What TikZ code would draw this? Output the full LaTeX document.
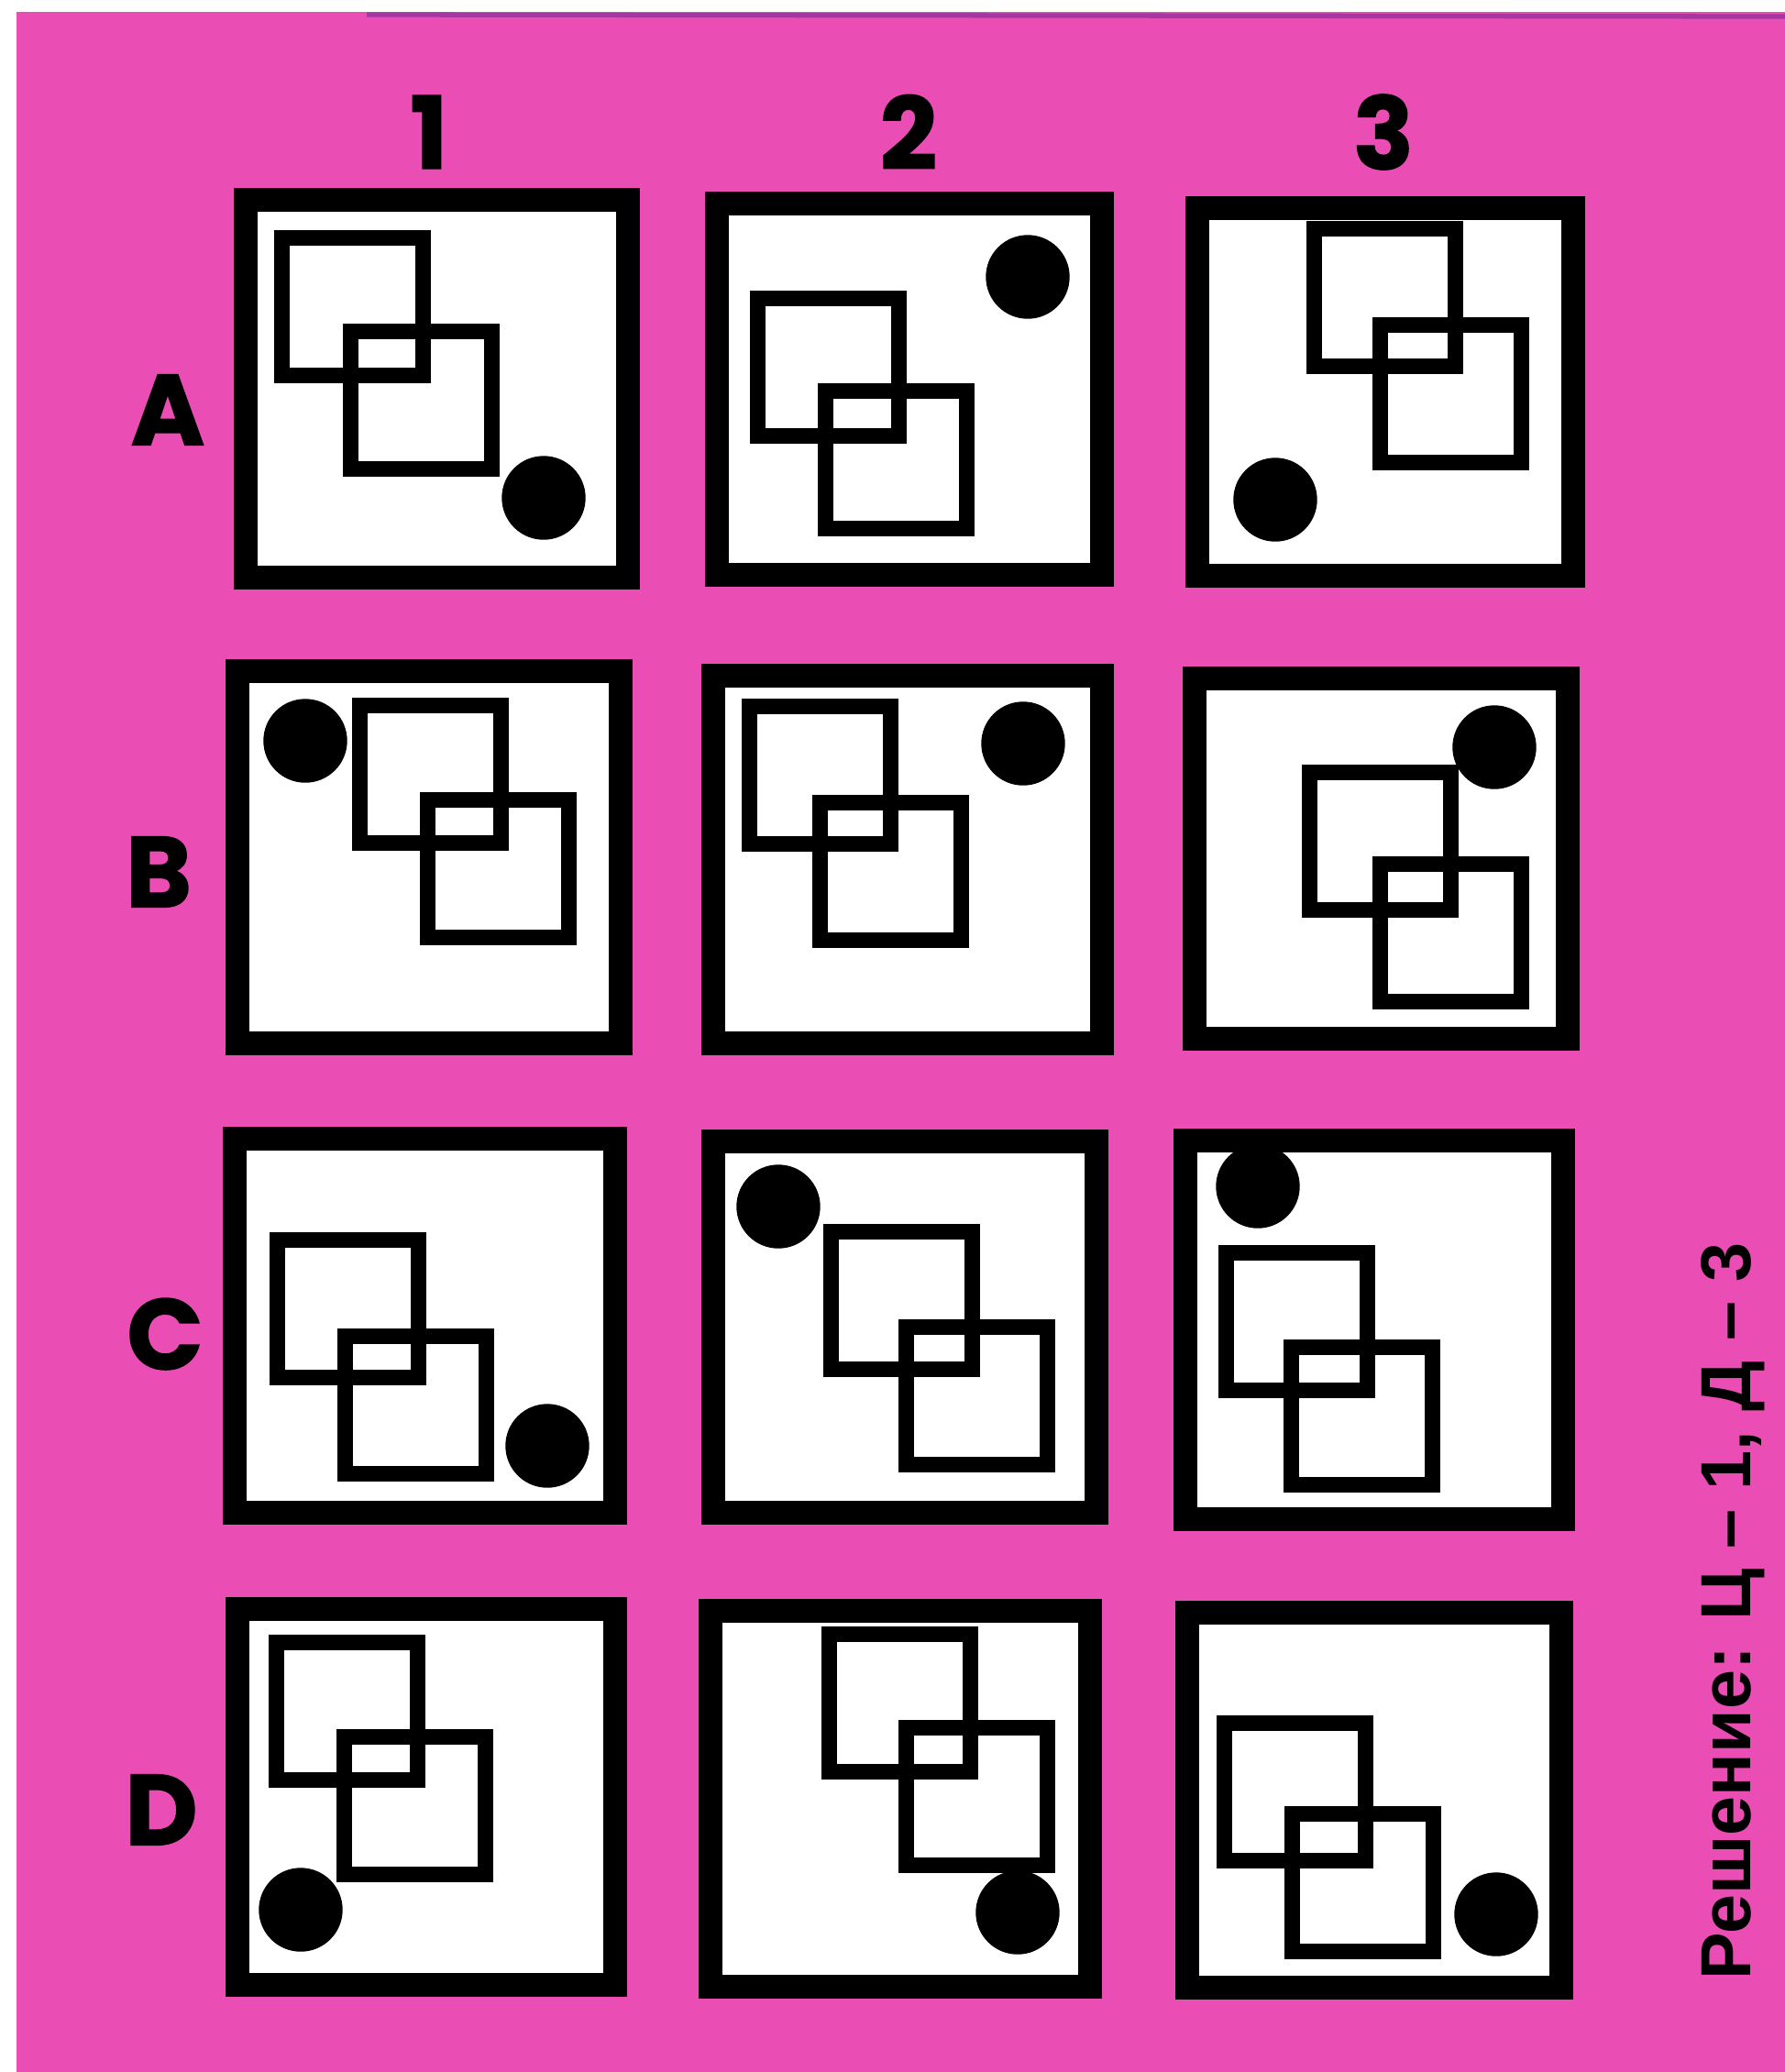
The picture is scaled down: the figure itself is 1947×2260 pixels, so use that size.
\documentclass[tikz,border=0pt]{standalone}
\usepackage{fontspec}
\newfontfamily\lblfont[BoldFeatures={FakeBold=1.5}]{Poppins}
\newfontfamily\sidefont{Liberation Sans}
\definecolor{bgpink}{RGB}{234,78,180}
\definecolor{edgeviolet}{RGB}{120,40,150}
\tikzset{
  panel/.style={draw=black, fill=white, line width=26*0.1mm},
  sqr/.style={draw=black, line width=17*0.1mm},
  lbl/.style={font=\lblfont\bfseries\fontsize{31}{31}\selectfont, inner sep=0pt},
  side/.style={font=\sidefont\bfseries\fontsize{22}{22}\selectfont, inner sep=0pt, rotate=90}
}
\begin{document}
\begin{tikzpicture}[x=0.1mm, y=-0.1mm]
    \useasboundingbox (0,0) rectangle (1947,2260);
    % 背景 (纸张粉色, 左上留白)
    \fill[white] (0,0) rectangle (1947,2260);
    \fill[bgpink] (18,13) rectangle (1947,2260);
    \draw[edgeviolet, line width=1.5pt, opacity=0.6] (400,16) -- (1947,18);

    % --- 列号与行号 ---
    \node[lbl] (col1) at (468,144) {1};
    \node[lbl] (col2) at (991,144) {2};
    \node[lbl] (col3) at (1509,144) {3};
    \node[lbl] (rowA) at (183,447) {A};
    \node[lbl] (rowB) at (173,951) {B};
    \node[lbl] (rowC) at (180,1455) {C};
    \node[lbl] (rowD) at (176,1974) {D};

    % --- 第 A 行 ---
    \filldraw[panel] (268,218) rectangle (685,630);
    \draw[sqr] (307,259) rectangle ++(154,150);
    \draw[sqr] (382,361) rectangle ++(154,150);
    \filldraw[black] (593,543) circle (45);

    \filldraw[panel] (782,222) rectangle (1202,627);
    \draw[sqr] (826,325) rectangle ++(154,150);
    \draw[sqr] (900,426) rectangle ++(154,150);
    \filldraw[black] (1121,302) circle (45);

    \filldraw[panel] (1306,227) rectangle (1716,628);
    \draw[sqr] (1433,249) rectangle ++(154,150);
    \draw[sqr] (1505,354) rectangle ++(154,150);
    \filldraw[black] (1391,545) circle (45);

    % --- 第 B 行 ---
    \filldraw[panel] (259,732) rectangle (677,1138);
    \draw[sqr] (392,769) rectangle ++(154,150);
    \draw[sqr] (466,872) rectangle ++(154,150);
    \filldraw[black] (333,808) circle (45);

    \filldraw[panel] (778,737) rectangle (1202,1138);
    \draw[sqr] (817,770) rectangle ++(154,150);
    \draw[sqr] (894,875) rectangle ++(154,150);
    \filldraw[black] (1116,811) circle (45);

    \filldraw[panel] (1303,740) rectangle (1710,1133);
    \draw[sqr] (1428,842) rectangle ++(154,150);
    \draw[sqr] (1505,942) rectangle ++(154,150);
    \filldraw[black] (1630,815) circle (45);

    % --- 第 C 行 ---
    \filldraw[panel] (256,1242) rectangle (671,1650);
    \draw[sqr] (302,1352) rectangle ++(154,150);
    \draw[sqr] (376,1457) rectangle ++(154,150);
    \filldraw[black] (597,1577) circle (45);

    \filldraw[panel] (778,1245) rectangle (1196,1650);
    \draw[sqr] (906,1343) rectangle ++(154,150);
    \draw[sqr] (988,1447) rectangle ++(154,150);
    \filldraw[black] (849,1316) circle (45);

    \filldraw[panel] (1293,1244) rectangle (1705,1657);
    \draw[sqr] (1337,1366) rectangle ++(154,150);
    \draw[sqr] (1408,1469) rectangle ++(154,150);
    \filldraw[black] (1372,1294) circle (45);

    % --- 第 D 行 ---
    \filldraw[panel] (259,1755) rectangle (671,2165);
    \draw[sqr] (301,1791) rectangle ++(154,150);
    \draw[sqr] (375,1894) rectangle ++(154,150);
    \filldraw[black] (328,2083) circle (45);

    \filldraw[panel] (775,1757) rectangle (1189,2167);
    \draw[sqr] (904,1782) rectangle ++(154,150);
    \draw[sqr] (988,1884) rectangle ++(154,150);
    \filldraw[black] (1110,2086) circle (45);

    \filldraw[panel] (1295,1759) rectangle (1703,2168);
    \draw[sqr] (1335,1879) rectangle ++(154,150);
    \draw[sqr] (1409,1978) rectangle ++(154,150);
    \filldraw[black] (1632,2088) circle (45);

    % 答案 (竖排)
    \node[side] (answer) at (1890,1757) {Решение: Ц – 1, Д – 3};

\end{tikzpicture}
\end{document}
